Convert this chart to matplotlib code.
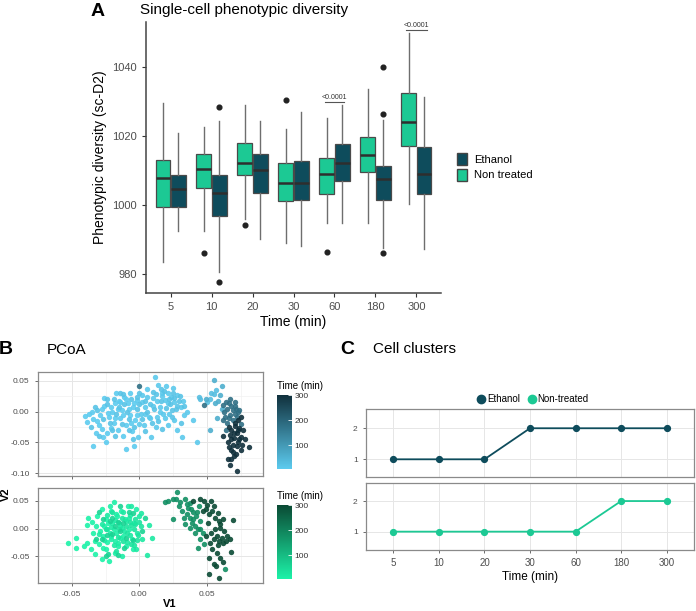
import matplotlib
matplotlib.use('Agg')
import matplotlib.pyplot as plt
import numpy as np
from matplotlib.colors import LinearSegmentedColormap, Normalize
from matplotlib.cm import ScalarMappable
from matplotlib.patches import Patch
from matplotlib.lines import Line2D

plt.rcParams['font.family'] = ['Liberation Sans', 'DejaVu Sans']

eth_col = '#0e4c5c'
nt_col = '#1cc994'

# ---- panel A: box statistics (whislo, q1, med, q3, whishi) ----
times = ['5', '10', '20', '30', '60', '180', '300']
nt_box = [(983.5, 999.5, 1007.7, 1012.9, 1029.5),
          (992.5, 1005.0, 1010.4, 1014.7, 1022.6),
          (996.0, 1008.6, 1012.1, 1018.0, 1029.0),
          (989.1, 1001.2, 1006.4, 1012.2, 1022.0),
          (994.7, 1003.1, 1008.9, 1013.5, 1025.2),
          (994.7, 1009.6, 1014.4, 1019.7, 1033.4),
          (1000.2, 1017.1, 1024.0, 1032.5, 1049.6)]
eth_box = [(992.5, 999.4, 1004.6, 1008.6, 1020.8),
           (980.8, 996.9, 1003.4, 1008.7, 1024.2),
           (990.3, 1003.5, 1010.1, 1014.9, 1024.2),
           (988.2, 1001.5, 1006.5, 1012.6, 1026.9),
           (994.9, 1007.1, 1012.1, 1017.6, 1029.0),
           (987.6, 1001.5, 1007.6, 1011.3, 1024.6),
           (987.2, 1003.1, 1009.1, 1016.7, 1031.2)]
nt_fliers = [[], [986.1], [994.2], [1030.4], [986.4], [], []]
eth_fliers = [[], [1028.3, 977.7], [], [], [], [1040.0, 1026.4, 986.3], []]
sig_groups = [4, 6]
sig_levels = [1029.8, 1050.6]

# ---- panel B: PCoA coordinates (V1, V2) by time ----
eth_5 = [(-0.040, -0.007), (-0.0385, -0.016), (-0.037, -0.003), (-0.034, -0.012), (-0.034, -0.056),
         (-0.032, -0.034), (-0.030, -0.022), (-0.029, -0.005), (-0.028, 0.004), (-0.026, 0.023),
         (-0.027, -0.041), (-0.025, -0.049), (-0.024, -0.035), (-0.0225, -0.008), (-0.021, 0.008),
         (-0.020, 0.000), (-0.019, -0.019), (-0.018, 0.0135), (-0.017, 0.030), (-0.016, -0.029),
         (-0.015, 0.018), (-0.014, -0.011), (-0.013, 0.003), (-0.012, -0.040), (-0.011, 0.024),
         (-0.010, -0.022), (-0.0096, -0.061), (-0.0085, 0.0135), (-0.007, -0.005), (-0.0066, 0.030),
         (-0.0056, -0.031), (-0.0047, 0.008), (-0.0038, -0.055), (-0.0033, -0.0135), (-0.0019, 0.019),
         (-0.035, 0.000), (-0.031, -0.015), (-0.028, -0.028), (-0.026, 0.010), (-0.023, -0.002),
         (-0.021, -0.026), (-0.018, -0.010), (-0.016, 0.004), (-0.014, 0.016), (-0.012, -0.006),
         (-0.010, 0.020), (-0.008, 0.005), (-0.006, -0.018), (-0.004, 0.014), (-0.002, -0.006)]
eth_10 = [(-0.0009, -0.041), (0.001, -0.003), (0.002, 0.027), (0.0033, -0.022), (0.0045, 0.008),
          (0.006, 0.036), (0.007, -0.008), (0.0085, -0.041), (0.0103, 0.0216), (0.0115, 0.056),
          (0.014, 0.043), (0.0165, 0.030), (0.019, 0.019), (0.015, 0.008), (0.021, 0.0135),
          (0.0235, 0.024), (0.026, 0.016), (0.028, 0.027), (0.0305, 0.008), (0.032, 0.018),
          (0.022, -0.003), (0.026, -0.0135), (0.021, -0.022), (0.033, -0.005), (0.035, 0.000),
          (0.028, -0.030), (0.0318, -0.041), (0.040, -0.0135), (0.0423, -0.049), (0.0176, -0.003),
          (0.0129, -0.008), (0.0247, 0.038), (0.020, 0.041), (0.000, -0.020), (0.002, 0.015),
          (0.004, -0.004), (0.006, 0.024), (0.008, -0.010), (0.010, 0.010), (0.012, -0.025),
          (0.013, 0.018), (0.015, 0.000), (0.017, 0.025), (0.019, -0.010), (0.021, 0.030)]
eth_20 = [(-0.031, 0.002), (-0.027, -0.012), (-0.024, 0.012), (-0.022, -0.018), (-0.019, 0.021),
          (-0.017, -0.004), (-0.015, 0.007), (-0.013, -0.020), (-0.011, 0.012), (-0.009, 0.000),
          (-0.008, -0.012), (-0.006, 0.020), (-0.004, -0.025), (-0.002, 0.004), (0.000, 0.012),
          (0.002, -0.012), (0.004, 0.018), (0.006, 0.000), (0.008, 0.012), (0.009, -0.018),
          (0.011, 0.005), (0.012, 0.028), (0.014, -0.015), (0.016, 0.018), (0.018, 0.034),
          (0.020, 0.006), (0.023, 0.012), (0.025, 0.030), (0.027, 0.005), (0.029, 0.018),
          (0.031, -0.018), (-0.036, -0.025), (-0.033, 0.008), (-0.020, -0.030), (-0.005, -0.045),
          (0.000, 0.030), (-0.014, 0.030), (0.017, -0.028), (0.024, -0.008), (0.030, 0.025),
          (0.033, 0.010), (0.022, 0.020), (0.024, 0.002), (0.026, 0.022), (0.028, 0.010),
          (0.016, 0.036), (0.010, 0.032), (-0.002, 0.024), (-0.018, -0.040), (-0.030, -0.040),
          (-0.008, -0.030), (0.004, -0.032), (-0.024, 0.020), (-0.012, 0.028)]
eth_30 = [(0.0528, 0.031), (0.050, 0.016), (0.052, 0.021), (0.055, 0.028), (0.045, 0.020),
          (0.044, 0.024), (0.057, 0.035)]
eth_60 = [(0.055, 0.052), (0.061, 0.041), (0.0599, 0.027), (0.056, 0.0135), (0.0575, -0.011),
          (0.058, 0.018), (0.049, 0.020), (0.061, 0.005), (0.052, -0.030)]
eth_180 = [(0.000, 0.042), (0.048, 0.011), (0.062, 0.011), (0.0646, 0.005), (0.066, 0.0135),
           (0.068, 0.009), (0.0716, 0.005), (0.0728, 0.000), (0.0705, -0.003), (0.067, -0.005),
           (0.0634, -0.008), (0.062, -0.0135), (0.074, 0.003), (0.0705, 0.016), (0.067, 0.020),
           (0.065, -0.019), (0.069, -0.0135), (0.064, 0.015), (0.071, 0.010), (0.066, -0.010),
           (0.063, 0.000), (0.069, 0.002), (0.072, -0.008), (0.075, -0.020), (0.064, -0.030)]
eth_300 = [(0.073, -0.0135), (0.075, -0.008), (0.0705, -0.024), (0.074, -0.027), (0.0723, -0.035),
           (0.075, -0.041), (0.070, -0.043), (0.0733, -0.049), (0.0763, -0.054), (0.0693, -0.054),
           (0.0658, -0.049), (0.068, -0.062), (0.081, -0.058), (0.0653, -0.076), (0.0676, -0.077),
           (0.0669, -0.087), (0.072, -0.097), (0.075, -0.062), (0.0716, -0.068), (0.068, -0.030),
           (0.071, -0.018), (0.067, -0.038), (0.074, -0.045), (0.070, -0.072), (0.077, -0.030),
           (0.066, -0.025), (0.070, -0.035), (0.073, -0.030), (0.068, -0.045), (0.072, -0.055),
           (0.078, -0.045), (0.062, -0.040), (0.069, -0.066), (0.066, -0.058)]

nt_5 = [(-0.0526, -0.026), (-0.047, -0.034), (-0.0467, -0.016), (-0.041, -0.032), (-0.039, -0.026),
        (-0.038, 0.020), (-0.0385, 0.006), (-0.036, -0.037), (-0.034, -0.007), (-0.033, -0.046),
        (-0.032, 0.005), (-0.030, -0.028), (-0.028, -0.055), (-0.0277, 0.035), (-0.0268, -0.013),
        (-0.025, 0.017), (-0.0249, -0.037), (-0.0237, -0.001), (-0.0225, -0.058), (-0.021, 0.032),
        (-0.035, 0.012), (-0.033, -0.022), (-0.031, 0.022), (-0.029, -0.004), (-0.027, -0.034),
        (-0.026, 0.004), (-0.024, -0.024), (-0.023, 0.010)]
nt_10 = [(-0.0207, -0.019), (-0.020, 0.011), (-0.019, 0.048), (-0.018, -0.043), (-0.017, -0.007),
         (-0.0167, 0.023), (-0.0155, -0.025), (-0.0143, 0.005), (-0.0136, 0.032), (-0.0127, -0.049),
         (-0.012, -0.013), (-0.0108, 0.017), (-0.0096, -0.031), (-0.0085, 0.041), (-0.008, -0.001),
         (-0.0066, 0.024), (-0.0056, -0.019), (-0.0049, -0.037), (-0.0038, 0.011), (-0.0026, 0.035),
         (-0.022, 0.040), (-0.021, -0.014), (-0.019, 0.000), (-0.018, -0.022), (-0.017, 0.026),
         (-0.016, -0.032), (-0.015, 0.010), (-0.014, -0.016)]
nt_20 = [(-0.0014, -0.007), (-0.0002, 0.023), (0.0009, 0.029), (-0.0026, -0.037), (0.0056, -0.048),
         (0.0075, 0.007), (0.0096, -0.017), (0.002, -0.019), (-0.006, 0.041), (-0.030, -0.010),
         (-0.028, 0.008), (-0.026, -0.020), (-0.024, 0.025), (-0.022, -0.008), (-0.021, 0.003),
         (-0.019, -0.030), (-0.018, 0.015), (-0.013, 0.002), (-0.012, 0.030), (-0.011, -0.004),
         (-0.010, 0.014), (-0.009, -0.024), (-0.008, 0.020), (-0.007, -0.012)]
nt_30 = [(-0.016, -0.015), (-0.015, 0.000), (-0.013, 0.020), (-0.012, -0.022), (-0.010, 0.005),
         (-0.009, -0.008), (-0.007, 0.012), (-0.006, -0.028), (-0.004, 0.000), (-0.003, 0.018),
         (-0.001, -0.012), (0.001, 0.005), (-0.025, 0.000), (-0.020, 0.030), (-0.017, -0.040),
         (-0.006, 0.006), (-0.004, -0.030), (-0.003, 0.008), (-0.002, -0.020), (0.000, 0.012)]
nt_60 = [(-0.014, 0.040), (-0.011, -0.035), (-0.027, 0.018), (-0.023, -0.045), (-0.008, 0.030),
         (-0.005, -0.020), (-0.032, -0.018), (-0.020, -0.010), (-0.018, 0.005), (-0.014, -0.005),
         (-0.012, 0.010), (-0.024, -0.012), (-0.016, 0.012), (-0.022, 0.014), (-0.010, -0.016),
         (0.002, -0.004), (0.004, 0.020), (-0.028, -0.018), (-0.020, 0.020), (-0.016, -0.048),
         (-0.025, -0.050), (-0.005, 0.028), (-0.030, 0.030)]
nt_180 = [(0.028, 0.066), (0.019, 0.048), (0.0212, 0.050), (0.0247, 0.053), (0.027, 0.054),
          (0.030, 0.048), (0.0294, 0.041), (0.034, 0.053), (0.0352, 0.044), (0.0376, 0.047),
          (0.0317, 0.032), (0.0247, 0.017), (0.0352, 0.026), (0.0376, 0.020), (0.040, 0.017),
          (0.042, 0.023), (0.045, 0.014), (0.047, -0.007), (0.045, -0.001), (0.041, 0.005),
          (0.0376, 0.002), (0.034, 0.008), (0.045, -0.019), (0.048, -0.028), (0.0435, -0.034),
          (0.0634, -0.073), (0.0435, -0.001), (0.041, -0.007), (0.038, 0.035), (0.043, 0.030),
          (0.036, 0.038), (0.040, 0.030), (0.044, 0.040), (0.033, 0.020), (0.039, 0.010)]
nt_300 = [(0.040, 0.050), (0.045, 0.054), (0.053, 0.050), (0.047, 0.032), (0.0493, 0.035),
          (0.0517, 0.026), (0.054, 0.032), (0.056, 0.020), (0.0587, 0.014), (0.062, 0.017),
          (0.0693, 0.015), (0.0599, 0.002), (0.056, -0.001), (0.0528, -0.007), (0.0575, -0.013),
          (0.061, -0.016), (0.0646, -0.013), (0.067, -0.019), (0.0622, -0.025), (0.0587, -0.022),
          (0.0552, -0.019), (0.0493, -0.013), (0.054, -0.037), (0.0676, -0.042), (0.0575, -0.043),
          (0.0517, -0.052), (0.0599, -0.052), (0.0552, -0.064), (0.0564, -0.067), (0.0517, -0.082),
          (0.0587, -0.088), (0.048, 0.050), (0.051, 0.010), (0.058, 0.028), (0.050, 0.042),
          (0.055, 0.040), (0.060, 0.008), (0.063, -0.005), (0.058, -0.030), (0.064, -0.022),
          (0.052, -0.025), (0.062, -0.060)]

eth_groups = [(5, eth_5), (10, eth_10), (20, eth_20), (30, eth_30), (60, eth_60), (180, eth_180), (300, eth_300)]
nt_groups = [(5, nt_5), (10, nt_10), (20, nt_20), (30, nt_30), (60, nt_60), (180, nt_180), (300, nt_300)]

# ---- panel C: number of clusters ----
eth_clusters = [1, 1, 1, 2, 2, 2, 2]
nt_clusters = [1, 1, 1, 1, 1, 2, 2]

W, H = 696, 611
fig = plt.figure(figsize=(W / 100, H / 100), dpi=100)


def box(l, t, r, b):
    return [l / W, 1 - b / H, (r - l) / W, (b - t) / H]


# ================= A =================
axA = fig.add_axes(box(146, 22, 441, 293))
pos = np.arange(len(times))
for vals, fl, off, col in [(nt_box, nt_fliers, -0.1875, nt_col), (eth_box, eth_fliers, 0.1875, eth_col)]:
    stats = [dict(whislo=v[0], q1=v[1], med=v[2], q3=v[3], whishi=v[4], fliers=f) for v, f in zip(vals, fl)]
    bp = axA.bxp(stats, positions=pos + off, widths=0.36, patch_artist=True, showcaps=False,
                 boxprops=dict(edgecolor='#4a4a4a', linewidth=0.9),
                 whiskerprops=dict(color='#6e6e6e', linewidth=1.0),
                 medianprops=dict(color='#2e2e2e', linewidth=1.8),
                 flierprops=dict(marker='o', markerfacecolor='#222222', markeredgecolor='#222222', markersize=3.4))
    for p in bp['boxes']:
        p.set_facecolor(col)

for g, lev, half in zip(sig_groups, sig_levels, [0.23, 0.26]):
    axA.plot([g - half, g + half], [lev, lev], color='#555555', lw=0.8)
    axA.text(g, lev + 0.4, '<0.0001', ha='center', va='bottom', fontsize=5, color='#333333')

axA.set_xlim(-0.6, 6.6)
axA.set_ylim(974.6, 1052.9)
axA.set_xticks(pos)
axA.set_xticklabels(times)
axA.set_yticks([980, 1000, 1020, 1040])
for s in ['top', 'right']:
    axA.spines[s].set_visible(False)
for s in ['left', 'bottom']:
    axA.spines[s].set_color('#444444')
    axA.spines[s].set_linewidth(1.1)
axA.tick_params(labelsize=8, colors='#333333', labelcolor='#4d4d4d', length=3, width=0.8)
axA.set_ylabel('Phenotypic diversity (sc-D2)', fontsize=10, labelpad=4)
axA.set_xlabel('Time (min)', fontsize=10, labelpad=2)

fig.text(98 / W, 1 - 11 / H, 'A', fontsize=14, fontweight='bold', ha='center', va='center')
fig.text(140 / W, 1 - 10 / H, 'Single-cell phenotypic diversity', fontsize=11, ha='left', va='center')

handles = [Patch(facecolor=eth_col, edgecolor='#444444', label='Ethanol'),
           Patch(facecolor=nt_col, edgecolor='#444444', label='Non treated')]
fig.legend(handles=handles, loc='center left', bbox_to_anchor=(447 / W, 1 - 167 / H), frameon=False,
           fontsize=8, handlelength=0.9, handleheight=1.3, handletextpad=0.6, labelspacing=0.3)

# ================= B =================
eth_cmap = LinearSegmentedColormap.from_list('eth', ['#5ccbef', '#10303c'])
nt_cmap = LinearSegmentedColormap.from_list('nt', ['#1cf2a8', '#0a4a34'])
norm = Normalize(5, 300)

axB1 = fig.add_axes(box(38, 372, 263, 476))
axB2 = fig.add_axes(box(38, 488, 263, 583))
for ax, groups, cmap, ylim, yt in [(axB1, eth_groups, eth_cmap, (-0.1044, 0.0644), [0.05, 0.0, -0.05, -0.10]),
                                   (axB2, nt_groups, nt_cmap, (-0.0977, 0.0732), [0.05, 0.0, -0.05])]:
    for t, pts in groups:
        a = np.array(pts)
        ax.scatter(a[:, 0], a[:, 1], s=15, color=cmap(norm(t)), alpha=0.9, linewidths=0, zorder=3)
    ax.set_xlim(-0.0671, 0.0915)
    ax.set_ylim(*ylim)
    ax.set_xticks([-0.05, 0.0, 0.05])
    ax.set_xticks([-0.075, -0.025, 0.025, 0.075], minor=True)
    ax.set_yticks(yt)
    ax.set_yticks(np.array(yt[:-1]) - 0.025, minor=True)
    ax.set_yticklabels(['%.2f' % v for v in yt])
    ax.grid(True, which='major', color='#e6e6e6', lw=0.7, zorder=0)
    ax.grid(True, which='minor', color='#f2f2f2', lw=0.5, zorder=0)
    ax.tick_params(which='major', labelsize=6, colors='#555555', labelcolor='#4d4d4d', length=2.5, width=0.6)
    ax.tick_params(which='minor', length=0)
    for s in ax.spines.values():
        s.set_color('#8a8a8a')
        s.set_linewidth(0.9)
axB1.set_xticklabels([])
axB2.set_xticklabels(['-0.05', '0.00', '0.05'])

for (l, t, r, b), cmap in [((277, 395, 292, 469), eth_cmap), ((277, 505, 292, 579), nt_cmap)]:
    cax = fig.add_axes(box(l, t, r, b))
    cb = fig.colorbar(ScalarMappable(norm=norm, cmap=cmap), cax=cax, ticks=[100, 200, 300])
    cb.outline.set_visible(False)
    cax.tick_params(labelsize=6, labelcolor='#333333', colors='white', length=3, width=0.6, direction='in', pad=2)
    fig.text(277 / W, 1 - (t - 9) / H, 'Time (min)', fontsize=7, ha='left', va='center')

fig.text(6 / W, 1 - 349 / H, 'B', fontsize=14, fontweight='bold', ha='center', va='center')
fig.text(47 / W, 1 - 350 / H, 'PCoA', fontsize=11, ha='left', va='center')
fig.text(6 / W, 1 - 494 / H, 'V2', fontsize=8, fontweight='bold', rotation=90, ha='center', va='center')
fig.text(170 / W, 1 - 604 / H, 'V1', fontsize=8, fontweight='bold', ha='center', va='center')

# ================= C =================
axC1 = fig.add_axes(box(366, 409, 694, 477))
axC2 = fig.add_axes(box(366, 483, 694, 550))
for ax, vals, col, ylim in [(axC1, eth_clusters, eth_col, (0.43, 2.62)), (axC2, nt_clusters, nt_col, (0.40, 2.59))]:
    ax.plot(pos, vals, color=col, lw=1.3, marker='o', markersize=4.2, zorder=3)
    ax.set_xlim(-0.6, 6.6)
    ax.set_ylim(*ylim)
    ax.set_xticks(pos)
    ax.set_yticks([1, 2])
    ax.grid(True, color='#e6e6e6', lw=0.7, zorder=0)
    ax.tick_params(labelsize=6, colors='#555555', labelcolor='#4d4d4d', length=2.5, width=0.6)
    for s in ax.spines.values():
        s.set_color('#8a8a8a')
        s.set_linewidth(0.9)
axC1.tick_params(axis='x', length=0, labelbottom=False)
axC2.set_xticklabels(times, fontsize=7)
axC2.set_xlabel('Time (min)', fontsize=8.5, labelpad=2)

chandles = [Line2D([], [], color=eth_col, marker='o', lw=0, markersize=6, label='Ethanol'),
            Line2D([], [], color=nt_col, marker='o', lw=0, markersize=6, label='Non-treated')]
fig.legend(handles=chandles, loc='center', bbox_to_anchor=(533 / W, 1 - 399 / H), ncol=2, frameon=False,
           fontsize=7, handlelength=0.8, handletextpad=0.2, columnspacing=0.8)

fig.text(347 / W, 1 - 349 / H, 'C', fontsize=14, fontweight='bold', ha='center', va='center')
fig.text(373 / W, 1 - 349 / H, 'Cell clusters', fontsize=11, ha='left', va='center')

fig.savefig('out.png', dpi=100)
